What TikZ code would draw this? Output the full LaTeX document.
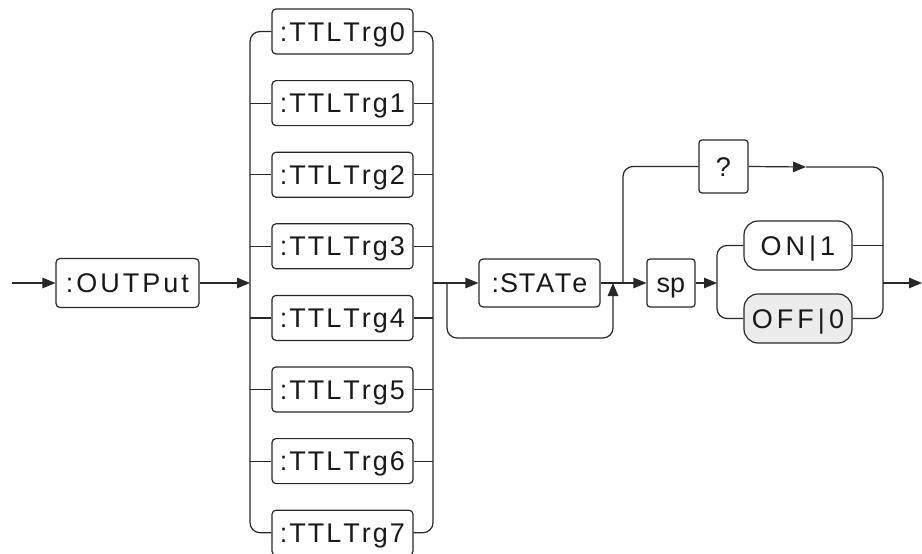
\documentclass[tikz,border=0pt]{standalone}
\usepackage{fontspec}
\setmainfont{Liberation Sans}
\usetikzlibrary{arrows.meta}
\definecolor{lc}{RGB}{40,40,40}
\definecolor{tc}{RGB}{25,25,25}
\definecolor{offfill}{RGB}{236,236,236}
\makeatletter
\newdimen\lspc
\def\spc#1#2{\lspc=#1\relax\spc@#2\relax}
\def\spc@#1#2{#1\ifx#2\relax\else\kern\lspc\expandafter\spc@\expandafter#2\fi}
\makeatother
\tikzset{
  ln/.style={line width=1.2pt, draw=lc},
  arr/.style={ln, -{Triangle[length=13pt,width=10.5pt]}},
  kw/.style={draw=lc, line width=1.2pt, rounded corners=4pt, inner sep=0pt,
    text height=19.3pt, text depth=0pt, font=\fontsize{27}{32}\selectfont, text=tc},
  pill/.style={kw, rounded corners=14pt, minimum width=108pt, minimum height=49pt},
  trg/.style={kw, minimum width=141pt, minimum height=45pt},
}
\begin{document}
\begin{tikzpicture}[x=1pt,y=-1pt]
\useasboundingbox (0,0) rectangle (922,554);
% nodes
\node[kw, minimum width=143pt, minimum height=49pt] (out) at (127.5,283) {\spc{3pt}{:OUTPut}};
\foreach \i in {0,...,7}
  \node[trg] (t\i) at (342.5,{31.5+71.6*\i}) {\spc{2pt}{:TTLTrg\i}};
\node[kw, minimum width=121pt, minimum height=48pt] (st) at (539.5,283) {\spc{0.8pt}{:STATe}};
\node[kw, rounded corners=3pt, minimum width=48pt, minimum height=48pt] (sp) at (671,283) {sp};
\node[kw, rounded corners=3pt, minimum width=49pt, minimum height=53pt] (q) at (723.5,166.5) {?};
\node[pill] (on) at (798,245.5) {\spc{4pt}{ON|1}};
\node[pill, fill=offfill] (off) at (798,318.5) {\spc{4pt}{OFF|0}};
% coordinates
\coordinate (start) at (12,283);
\coordinate (L) at (250,283);
\coordinate (R) at (433,283);
\coordinate (b1) at (447,283);
\coordinate (b2) at (613,283);
\coordinate (q0) at (623,283);
\coordinate (qa) at (806,167);
\coordinate (F) at (717,283);
\coordinate (X) at (883,283);
\coordinate (end) at (922,283);
% connectors
\draw[arr] (start) -- (out.west);
\draw[arr] (out.east) -- (L);
\draw[ln, rounded corners=10pt] (t0.west) -| (t7.west -| L) -- (t7.west);
\draw[ln, rounded corners=10pt] (t0.east) -| (t7.east -| R) -- (t7.east);
\foreach \i in {1,...,6} {
  \draw[ln] (t\i.west) -- (t\i.west -| L);
  \draw[ln] (t\i.east) -- (t\i.east -| R);
}
\draw[arr] (R) -- (st.west);
\draw[arr, rounded corners=10pt] (b1) |- (613,338) -- (b2);
\draw[arr] (st.east) -- (sp.west);
\draw[ln, rounded corners=10pt] (q0) |- (q.west);
\draw[arr] (q.east) -- (qa);
\draw[ln, rounded corners=10pt] (qa) -| (off.east -| X) -- (off.east);
\draw[arr] (sp.east) -- (F);
\draw[ln, rounded corners=10pt] (on.west) -| (F) |- (off.west);
\draw[ln] (on.east) -- (on.east -| X);
\draw[arr] (X) -- (end);
\end{tikzpicture}
\end{document}
